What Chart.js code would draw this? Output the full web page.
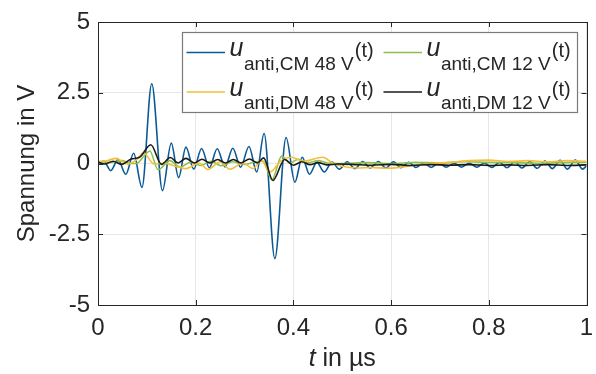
<!DOCTYPE html>
<html>
<head>
<meta charset="utf-8">
<script src="https://cdn.jsdelivr.net/npm/chart.js@4.4.1/dist/chart.umd.min.js"></script>
<style>
  html, body { margin: 0; padding: 0; background: #fff; }
</style>
</head>
<body>
<canvas id="chart" width="596" height="374"></canvas>
<script>
// tick labels
const xTickLabels = ["0", "0.2", "0.4", "0.6", "0.8", "1"];
const yTickLabels = ["-5", "-2.5", "0", "2.5", "5"];

// u_anti,CM 48 V (blue)
const tCm48 = [0.000, 0.012, 0.026, 0.041, 0.057, 0.073, 0.090, 0.110, 0.132, 0.150, 0.165, 0.180, 0.196, 0.212, 0.228, 0.244, 0.260, 0.276, 0.292, 0.309, 0.325, 0.340, 0.362, 0.385, 0.403, 0.418, 0.433, 0.448, 0.463, 0.479, 0.494, 0.510, 0.526, 0.542, 0.557, 0.574, 0.589, 0.605, 0.620, 0.636, 0.651, 0.667, 0.682, 0.698, 0.713, 0.729, 0.744, 0.760, 0.775, 0.791, 0.806, 0.822, 0.837, 0.853, 0.868, 0.884, 0.899, 0.915, 0.930, 0.946, 0.961, 0.977, 0.992, 1.000];
const uCm48 = [0.02, 0.08, -0.25, 0.14, -0.38, 0.36, -0.84, 2.82, -0.96, 0.72, -0.50, 0.58, -0.20, 0.53, -0.15, 0.52, -0.12, 0.54, -0.13, 0.60, -0.30, 1.06, -3.36, 0.92, -0.66, 0.22, -0.38, 0.04, -0.30, 0.05, -0.20, 0.06, -0.18, 0.07, -0.16, 0.07, -0.16, 0.06, -0.15, 0.04, -0.14, 0.02, -0.14, 0.02, -0.13, 0.01, -0.13, 0.01, -0.13, 0.02, -0.14, 0.04, -0.15, 0.06, -0.16, 0.07, -0.17, 0.09, -0.18, 0.11, -0.20, 0.12, -0.20, -0.08];

// u_anti,CM 12 V (green)
const tCm12 = [0.000, 0.025, 0.050, 0.062, 0.078, 0.096, 0.106, 0.123, 0.147, 0.168, 0.190, 0.210, 0.232, 0.252, 0.275, 0.300, 0.320, 0.338, 0.356, 0.376, 0.393, 0.410, 0.430, 0.450, 0.470, 0.500, 0.550, 0.600, 0.650, 0.700, 0.750, 0.800, 0.850, 0.900, 0.950, 1.000];
const uCm12 = [0.08, 0.04, 0.10, 0.02, 0.00, 0.30, 0.44, -0.22, 0.10, -0.13, 0.05, -0.07, 0.08, -0.08, 0.06, -0.03, 0.05, 0.08, -0.58, 0.26, 0.02, 0.15, 0.03, 0.10, 0.02, 0.00, 0.03, 0.00, 0.04, 0.02, 0.06, 0.04, 0.03, 0.01, 0.03, 0.05];

// u_anti,DM 48 V (yellow)
const tDm48 = [0.000, 0.018, 0.037, 0.060, 0.078, 0.093, 0.115, 0.135, 0.155, 0.180, 0.207, 0.225, 0.250, 0.270, 0.297, 0.317, 0.335, 0.352, 0.375, 0.396, 0.420, 0.460, 0.480, 0.500, 0.530, 0.560, 0.590, 0.620, 0.650, 0.680, 0.720, 0.760, 0.800, 0.840, 0.880, 0.920, 0.960, 1.000];
const uDm48 = [0.06, 0.10, 0.18, -0.02, 0.12, 0.38, -0.02, 0.02, -0.08, -0.18, 0.02, -0.21, 0.06, -0.20, 0.02, -0.18, 0.10, -0.30, 0.10, 0.22, 0.08, 0.22, 0.02, -0.10, -0.16, -0.14, -0.17, -0.13, -0.06, 0.00, 0.04, 0.10, 0.12, 0.07, 0.10, 0.06, 0.10, 0.08];

// u_anti,DM 12 V (black)
const tDm12 = [0.000, 0.014, 0.031, 0.048, 0.068, 0.085, 0.108, 0.130, 0.148, 0.164, 0.180, 0.197, 0.213, 0.229, 0.245, 0.261, 0.277, 0.293, 0.310, 0.326, 0.339, 0.358, 0.382, 0.400, 0.417, 0.434, 0.450, 0.470, 0.490, 0.520, 0.560, 0.600, 0.640, 0.680, 0.720, 0.760, 0.800, 0.840, 0.880, 0.920, 0.960, 1.000];
const uDm12 = [0.05, -0.02, 0.08, -0.03, 0.16, 0.22, 0.66, -0.03, 0.21, 0.02, 0.18, 0.02, 0.15, 0.02, 0.14, 0.02, 0.14, 0.02, 0.16, 0.02, 0.20, -0.60, 0.14, -0.06, 0.06, -0.04, 0.03, -0.05, -0.02, -0.03, -0.06, -0.03, -0.07, -0.04, -0.06, -0.04, -0.07, -0.05, -0.07, -0.04, -0.07, -0.05];

const seriesNames = ["anti,CM 48 V", "anti,CM 12 V", "anti,DM 48 V", "anti,DM 12 V"];
const seriesColors = ["#0b5a96", "#8cbf4f", "#f3bf3a", "#1a1a1a"];

function toPoints(ts, vs) {
  return ts.map((t, i) => ({ x: t, y: vs[i] }));
}

const textColor = "#262626";
const fontFamily = "'Liberation Sans', Arial, sans-serif";

// frame, inward ticks, x title and legend
const decorPlugin = {
  id: "decor",
  afterDraw(chart) {
    const ctx = chart.ctx;
    const area = chart.chartArea;
    const xs = chart.scales.x;
    const ys = chart.scales.y;
    ctx.save();

    // frame
    ctx.strokeStyle = textColor;
    ctx.lineWidth = 1;
    ctx.strokeRect(Math.round(area.left) + 0.5, Math.round(area.top) + 0.5,
      Math.round(area.right - area.left), Math.round(area.bottom - area.top));

    // inward ticks
    const tl = 5;
    ctx.beginPath();
    xs.ticks.forEach((tk) => {
      const px = Math.round(xs.getPixelForValue(tk.value)) + 0.5;
      ctx.moveTo(px, area.bottom); ctx.lineTo(px, area.bottom - tl);
      ctx.moveTo(px, area.top); ctx.lineTo(px, area.top + tl);
    });
    ys.ticks.forEach((tk) => {
      const py = Math.round(ys.getPixelForValue(tk.value)) + 0.5;
      ctx.moveTo(area.left, py); ctx.lineTo(area.left + tl, py);
      ctx.moveTo(area.right, py); ctx.lineTo(area.right - tl, py);
    });
    ctx.stroke();

    // x axis title with italic t
    ctx.fillStyle = textColor;
    ctx.textBaseline = "alphabetic";
    ctx.textAlign = "left";
    const italic = "italic 25px " + fontFamily;
    const normal = "25px " + fontFamily;
    ctx.font = italic;
    const wT = ctx.measureText("t").width;
    ctx.font = normal;
    const wRest = ctx.measureText(" in µs").width;
    const cx = (area.left + area.right) / 2;
    let x0 = cx - (wT + wRest) / 2;
    ctx.font = italic;
    ctx.fillText("t", x0, 366);
    ctx.font = normal;
    ctx.fillText(" in µs", x0 + wT, 366);

    // legend
    const bx = 182.5, by = 32.5, bw = 395, bh = 80;
    ctx.fillStyle = "#ffffff";
    ctx.fillRect(bx, by, bw, bh);
    ctx.strokeStyle = "#7a7a7a";
    ctx.lineWidth = 1.2;
    ctx.strokeRect(bx, by, bw, bh);

    const colX = [186.5, 383.5];
    const rowY = [52.5, 92];
    seriesNames.forEach((name, i) => {
      const col = i % 2;
      const row = Math.floor(i / 2);
      const lx = colX[col];
      const ly = rowY[row];
      ctx.strokeStyle = seriesColors[i];
      ctx.lineWidth = 1.6;
      ctx.beginPath();
      ctx.moveTo(lx, ly);
      ctx.lineTo(lx + 38.5, ly);
      ctx.stroke();

      ctx.fillStyle = textColor;
      let tx = lx + 43;
      ctx.font = "italic 25px " + fontFamily;
      ctx.fillText("u", tx, ly + 3.5);
      tx += ctx.measureText("u").width + 0.5;
      ctx.font = "19px " + fontFamily;
      ctx.fillText(name, tx, ly + 17);
      tx += ctx.measureText(name).width + 1;
      ctx.font = "20px " + fontFamily;
      ctx.fillText("(t)", tx, ly + 4);
    });

    ctx.restore();
  }
};

const ctx = document.getElementById("chart").getContext("2d");
new Chart(ctx, {
  type: "line",
  data: {
    datasets: [
      { label: seriesNames[0], data: toPoints(tCm48, uCm48), borderColor: seriesColors[0], order: 3 },
      { label: seriesNames[1], data: toPoints(tCm12, uCm12), borderColor: seriesColors[1], order: 2 },
      { label: seriesNames[2], data: toPoints(tDm48, uDm48), borderColor: seriesColors[2], order: 1 },
      { label: seriesNames[3], data: toPoints(tDm12, uDm12), borderColor: seriesColors[3], order: 0 },
    ],
  },
  options: {
    responsive: false,
    animation: false,
    devicePixelRatio: 1,
    layout: { padding: { left: 0, top: 22, right: 9.5, bottom: 0 } },
    elements: {
      line: { borderWidth: 1.6, cubicInterpolationMode: "monotone", fill: false },
      point: { radius: 0 },
    },
    plugins: {
      legend: { display: false },
      tooltip: { enabled: false },
    },
    scales: {
      x: {
        type: "linear",
        min: 0,
        max: 1,
        grid: { color: "#e6e6e6", drawTicks: false },
        border: { display: false },
        ticks: {
          stepSize: 0.2,
          padding: 9,
          color: textColor,
          font: { family: fontFamily, size: 24 },
          maxRotation: 0,
          callback: (v, i) => xTickLabels[i],
        },
        afterFit: (scale) => {
          scale.height = 69;
          scale.paddingLeft = 0;
          scale.paddingRight = 0;
        },
      },
      y: {
        min: -5,
        max: 5,
        grid: { color: "#e6e6e6", drawTicks: false },
        border: { display: false },
        ticks: {
          stepSize: 2.5,
          padding: 8,
          color: textColor,
          font: { family: fontFamily, size: 24 },
          callback: (v, i) => yTickLabels[i],
        },
        title: {
          display: true,
          text: "Spannung in V",
          color: textColor,
          font: { family: fontFamily, size: 24 },
          padding: { top: 13, bottom: 0 },
        },
        afterFit: (scale) => {
          scale.width = 98;
          scale.paddingTop = 0;
          scale.paddingBottom = 0;
        },
      },
    },
  },
  plugins: [decorPlugin],
});
</script>
</body>
</html>
